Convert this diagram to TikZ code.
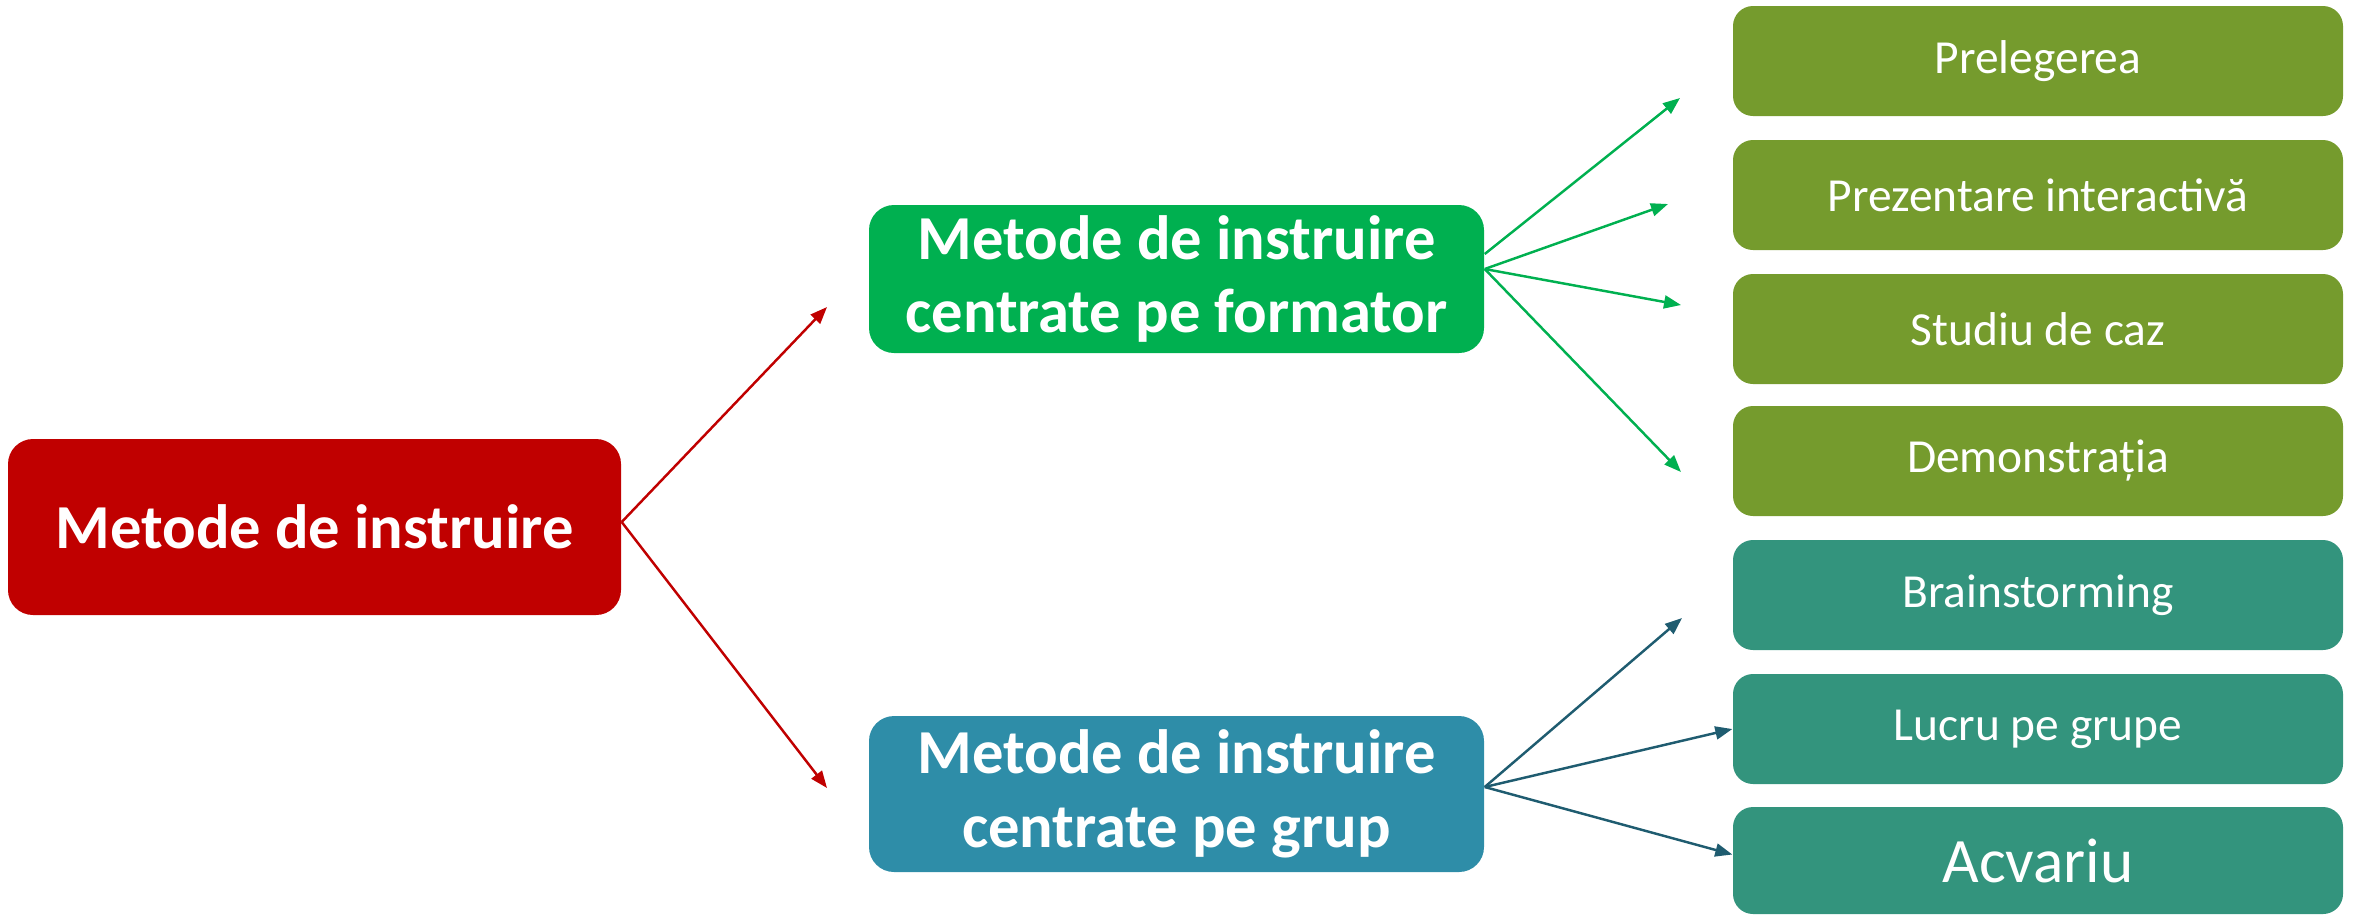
\documentclass[tikz,border=0pt]{standalone}
\usepackage{fontspec}
\setmainfont{Carlito}
\usetikzlibrary{calc,arrows.meta}
\definecolor{rootred}{RGB}{192,0,0}
\definecolor{trainergreen}{RGB}{0,176,80}
\definecolor{groupblue}{RGB}{46,141,168}
\definecolor{leafolive}{RGB}{117,155,45}
\definecolor{leafteal}{RGB}{51,148,125}
\definecolor{arrowteal}{RGB}{31,92,112}
\tikzset{
	bigbox/.style={rounded corners=0.25cm, inner sep=0, align=center, text=white, font=\fontsize{17.8}{21}\selectfont\bfseries},
	leafbox/.style={rounded corners=0.2cm, inner sep=0, minimum width=6.1cm, minimum height=1.1cm, text=white, font=\fontsize{13.5}{16}\selectfont},
	link/.style={line width=0.7pt, -{Triangle[length=0.17cm, width=0.13cm]}}
}

\begin{document}
\begin{tikzpicture}
		%%%%% START %%%%%
		\useasboundingbox (0, 0) rectangle (23.58, -9.14);
		
		\node[bigbox, fill=rootred, minimum width=6.13cm, minimum height=1.76cm] (root) at (3.145, -5.27) {Metode de instruire};
		
		\node[bigbox, fill=trainergreen, minimum width=6.15cm, minimum height=1.48cm] (trainer) at (11.765, -2.79) {Metode de instruire\\centrate pe formator};
		\node[bigbox, fill=groupblue, minimum width=6.15cm, minimum height=1.56cm] (group) at (11.765, -7.94) {Metode de instruire\\centrate pe grup};
		
		\node[leafbox, fill=leafolive] (lecture) at (20.38, -0.61) {Prelegerea};
		\node[leafbox, fill=leafolive] (interactive) at (20.38, -1.95) {Prezentare interactivă};
		\node[leafbox, fill=leafolive] (casestudy) at (20.38, -3.29) {Studiu de caz};
		\node[leafbox, fill=leafolive] (demo) at (20.38, -4.61) {Demonstrația};
		\node[leafbox, fill=leafteal] (brainstorm) at (20.38, -5.95) {Brainstorming};
		\node[leafbox, fill=leafteal] (groupwork) at (20.38, -7.29) {Lucru pe grupe};
		\node[leafbox, fill=leafteal, minimum height=1.07cm, font=\fontsize{18}{21}\selectfont] (aquarium) at (20.38, -8.605) {Acvariu};
		
		\coordinate (rootout) at ($(root.east)+(0, 0.05)$);
		\coordinate (rootup) at (8.27, -3.07);
		\coordinate (rootdown) at (8.27, -7.88);
		\draw[link, rootred] (rootout) -- (rootup);
		\draw[link, rootred] (rootout) -- (rootdown);
		
		\coordinate (trainerout) at ($(trainer.east)+(0, 0.1)$);
		\coordinate (lecturein) at (16.80, -0.98);
		\coordinate (interactivein) at (16.68, -2.04);
		\coordinate (casestudyin) at (16.81, -3.05);
		\coordinate (demoin) at (16.81, -4.72);
		\draw[link, trainergreen] ($(trainer.east)+(0, 0.25)$) -- (lecturein);
		\draw[link, trainergreen] (trainerout) -- (interactivein);
		\draw[link, trainergreen] (trainerout) -- (casestudyin);
		\draw[link, trainergreen] (trainerout) -- (demoin);
		
		\coordinate (groupout) at ($(group.east)+(0, 0.07)$);
		\coordinate (brainstormin) at (16.82, -6.18);
		\draw[link, arrowteal] (groupout) -- (brainstormin);
		\draw[link, arrowteal] (groupout) -- (groupwork.west);
		\draw[link, arrowteal] (groupout) -- ($(aquarium.west)+(0, 0.06)$);
		%%%%% END %%%%%
	\end{tikzpicture}
\end{document}
